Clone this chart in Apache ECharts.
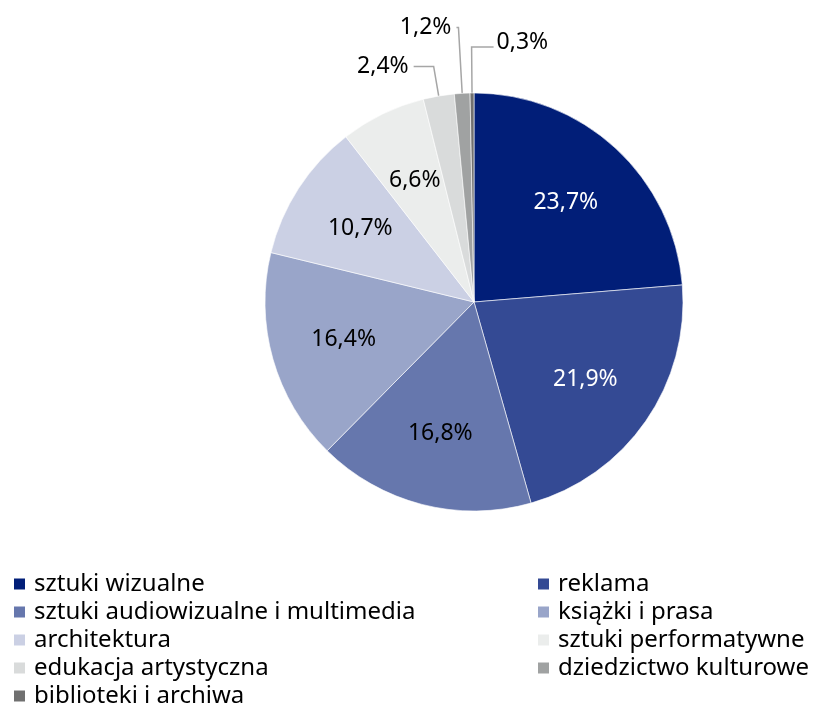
<!DOCTYPE html>
<html>
<head>
    <meta charset="utf-8">
    <title>Struktura</title>
    <script src="https://cdn.jsdelivr.net/npm/echarts@6/dist/echarts.min.js"></script>
    <style>
        html, body { margin: 0; padding: 0; background: #fff; }
    </style>
</head>
<body>
    <div id="main" style="width: 813px;height:709px;"></div>
    <script type="text/javascript">
    var myChart = echarts.init(document.getElementById('main'));
    // Data
    var names = ['sztuki wizualne', 'reklama', 'sztuki audiowizualne i multimedia', 'książki i prasa',
        'architektura', 'sztuki performatywne', 'edukacja artystyczna', 'dziedzictwo kulturowe',
        'biblioteki i archiwa'];
    var shares = [23.7, 21.9, 16.8, 16.4, 10.7, 6.6, 2.4, 1.2, 0.3];
    var colors = ['#011e78', '#344a94', '#6677ad', '#99a5c9', '#cbd0e4', '#ebedec', '#d9dbdb', '#a0a2a2', '#707070'];
    var labelColors = ['#fff', '#fff', '#000', '#000', '#000', '#000', '#000', '#000', '#000'];
    var smallCount = 3; // last slices get outside labels

    var fontFamily = '"Noto Sans", "Open Sans", sans-serif';
    var fmt = function (p) { return p.value.toFixed(1).replace('.', ',') + '%'; };

    // outside label line lengths for the small slices
    var outside = [
      { length: 30, length2: 20 },
      { length: 66, length2: 2 },
      { length: 46, length2: 0 }
    ];

    var mainData = names.map(function (n, i) {
      var item = { name: n, value: shares[i], itemStyle: { color: colors[i] }, label: { show: false }, labelLine: { show: false } };
      var k = i - (names.length - smallCount);
      if (k >= 0) {
        item.label = { show: true, position: 'outside', distance: 4 };
        item.labelLine = { show: true, length: outside[k].length, length2: outside[k].length2 };
      }
      return item;
    });

    var innerData = names.map(function (n, i) {
      return {
        name: n, value: shares[i],
        label: { show: i < names.length - smallCount, color: labelColors[i] }
      };
    });

    var legendLeft = names.filter(function (n, i) { return i % 2 === 0; });
    var legendRight = names.filter(function (n, i) { return i % 2 === 1; });

    var legendBase = {
      orient: 'vertical',
      top: 572,
      padding: 0,
      itemWidth: 13,
      itemHeight: 13,
      itemGap: 4,
      icon: 'rect',
      selectedMode: false,
      textStyle: { fontFamily: fontFamily, fontSize: 24, lineHeight: 24, color: '#000', padding: [0, 0, 0, 3] }
    };

    var option = {
      backgroundColor: '#fff',
      animation: false,
      color: colors,
      legend: [
        Object.assign({}, legendBase, { left: 12, data: legendLeft }),
        Object.assign({}, legendBase, { left: 536, data: legendRight })
      ],
      series: [{
        name: 'udział',
        type: 'pie',
        center: [474, 302],
        radius: [0, 209],
        startAngle: 90,
        clockwise: true,
        avoidLabelOverlap: false,
        itemStyle: { borderColor: '#fff', borderWidth: 0.6 },
        label: {
          formatter: fmt,
          fontFamily: fontFamily,
          fontSize: 23,
          color: '#000'
        },
        labelLine: {
          lineStyle: { color: '#a6a6a6', width: 1.5 }
        },
        // last slice sits just left of the top but its label goes to the right
        labelLayout: function (params) {
          if (params.dataIndex === names.length - 1 && params.labelLinePoints) {
            var p = params.labelLinePoints;
            return {
              align: 'left',
              dx: 30,
              dy: -5,
              labelLinePoints: [p[0], p[1], [p[1][0] + 22, p[1][1]]]
            };
          }
        },
        emphasis: { disabled: true },
        data: mainData
      }, {
        name: 'etykiety',
        type: 'pie',
        center: [474, 302],
        radius: [56, 209],
        startAngle: 90,
        clockwise: true,
        silent: true,
        avoidLabelOverlap: false,
        itemStyle: { color: 'rgba(0,0,0,0)' },
        label: {
          position: 'inside',
          formatter: fmt,
          fontFamily: fontFamily,
          fontSize: 23
        },
        labelLine: { show: false },
        emphasis: { disabled: true },
        data: innerData
      }]
    };

    myChart.setOption(option);
    </script>
</body>
</html>
